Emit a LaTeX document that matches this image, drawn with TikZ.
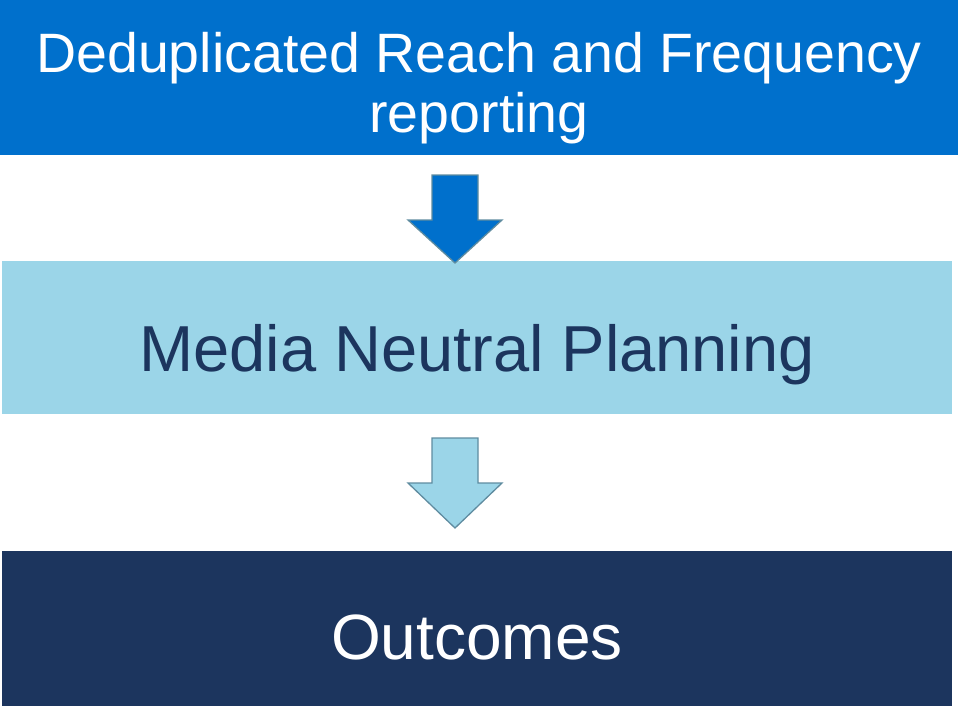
\documentclass[tikz,border=0pt]{standalone}
\usepackage{fontspec}
\setmainfont{Liberation Sans}
\definecolor{topblue}{RGB}{0,112,204}
\definecolor{paleblue}{RGB}{155,213,232}
\definecolor{navy}{RGB}{28,53,94}
\definecolor{arrowedge}{RGB}{95,140,160}
\begin{document}
\begin{tikzpicture}[x=1pt,y=-1pt,
  band/.style={draw=none,rectangle,inner sep=0pt,anchor=north west},
  bandtext/.style={anchor=base,inner sep=0pt,align=center},
  blockarrow/.style={draw=arrowedge,line width=1.3pt,line join=miter}]
\useasboundingbox (0,0) rectangle (958,706);
% the three stacked bands
\node[band,fill=topblue,minimum width=958pt,minimum height=155pt] (report) at (0,0) {};
\node[band,fill=paleblue,minimum width=950pt,minimum height=153pt] (plan) at (2,261) {};
\node[band,fill=navy,minimum width=950pt,minimum height=155pt] (outcome) at (2,551) {};
% band captions
\node[bandtext,text=white,font=\fontsize{55.5}{60}\selectfont] (reporttext) at (479,132)
  {Deduplicated Reach and Frequency\\reporting};
\node[bandtext,text=navy,font=\fontsize{65}{78}\selectfont] (plantext) at (477,371) {Media Neutral Planning};
\node[bandtext,text=white,font=\fontsize{64}{76}\selectfont] (outcometext) at (477,659) {Outcomes};
% block arrows between the bands
\coordinate (a1) at (455,263);
\coordinate (a2) at (455,528);
\draw[blockarrow,fill=topblue] (a1) -- ++(-47,-43) -- ++(24,0) -- ++(0,-45) -- ++(46,0) -- ++(0,45) -- ++(24,0) -- cycle;
\draw[blockarrow,fill=paleblue] (a2) -- ++(-47,-45) -- ++(24,0) -- ++(0,-45) -- ++(46,0) -- ++(0,45) -- ++(24,0) -- cycle;
\end{tikzpicture}
\end{document}
